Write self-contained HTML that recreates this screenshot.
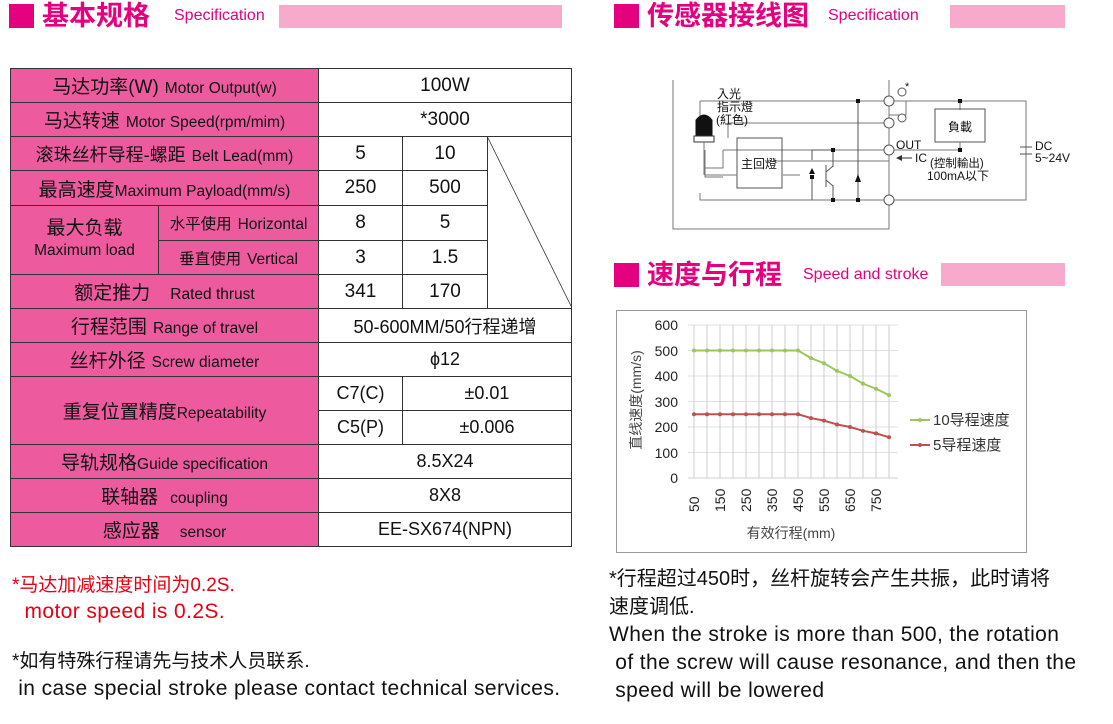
<!DOCTYPE html>
<html><head><meta charset="utf-8"><style>
body{margin:0;width:1113px;height:724px;background:#fff;position:relative;overflow:hidden;font-family:"Liberation Sans","Noto Sans CJK SC",sans-serif}
.a{position:absolute;white-space:nowrap}
.sq{position:absolute;background:#e4007f}
.ht{position:absolute;color:#e4007f;font-weight:bold;font-size:27px;line-height:30px;white-space:nowrap}
.hs{position:absolute;color:#e4007f;font-size:16px;line-height:20px}
.bar{position:absolute;background:#f7aacb}
.c{position:absolute;box-sizing:border-box;border:1px solid #333;display:flex;align-items:center;justify-content:center;font-size:19px;color:#111;white-space:nowrap}
.p{background:#ee5a9e}
.c small{font-size:15.5px;margin-left:6px}
.e{font-size:21px;letter-spacing:0.4px}
</style></head><body>
<div class="sq" style="left:9px;top:4px;width:25px;height:24px"></div>
<div class="ht" style="left:42px;top:1px">基本规格</div>
<div class="hs" style="left:174px;top:6px">Specification</div>
<div class="bar" style="left:279px;top:5px;width:283px;height:23px"></div>

<div class="sq" style="left:614px;top:4px;width:25px;height:24px"></div>
<div class="ht" style="left:647px;top:1px">传感器接线图</div>
<div class="hs" style="left:828px;top:6px">Specification</div>
<div class="bar" style="left:950px;top:5px;width:115px;height:23px"></div>

<div class="sq" style="left:614px;top:263px;width:25px;height:24px"></div>
<div class="ht" style="left:647px;top:260px">速度与行程</div>
<div class="hs" style="left:803px;top:265px">Speed and stroke</div>
<div class="bar" style="left:941px;top:263px;width:124px;height:23px"></div>

<!-- table -->
<div class="c p" style="left:10px;top:68px;width:309px;height:35px"><span>马达功率(W)<small>Motor Output(w)</small></span></div>
<div class="c" style="left:318px;top:68px;width:254px;height:35px">100W</div>
<div class="c p" style="left:10px;top:102px;width:309px;height:35px"><span>马达转速<small>Motor Speed(rpm/mim)</small></span></div>
<div class="c" style="left:318px;top:102px;width:254px;height:35px">*3000</div>
<div class="c p" style="left:10px;top:136px;width:309px;height:35px;font-size:18px"><span>滚珠丝杆导程-螺距<small>Belt Lead(mm)</small></span></div>
<div class="c" style="left:318px;top:136px;width:85px;height:35px">5</div>
<div class="c" style="left:402px;top:136px;width:86px;height:35px">10</div>
<div class="c p" style="left:10px;top:170px;width:309px;height:36px"><span>最高速度<small style="margin-left:0">Maximum Payload(mm/s)</small></span></div>
<div class="c" style="left:318px;top:170px;width:85px;height:36px">250</div>
<div class="c" style="left:402px;top:170px;width:86px;height:36px">500</div>
<div class="c p" style="left:10px;top:205px;width:149px;height:70px;flex-direction:column;line-height:22px"><span>最大负载</span><span style="font-size:15.5px">Maximum load</span></div>
<div class="c p" style="left:158px;top:205px;width:161px;height:36px;font-size:15.5px"><span>水平使用<small>Horizontal</small></span></div>
<div class="c p" style="left:158px;top:240px;width:161px;height:35px;font-size:15.5px"><span>垂直使用<small>Vertical</small></span></div>
<div class="c" style="left:318px;top:205px;width:85px;height:36px">8</div>
<div class="c" style="left:402px;top:205px;width:86px;height:36px">5</div>
<div class="c" style="left:318px;top:240px;width:85px;height:35px">3</div>
<div class="c" style="left:402px;top:240px;width:86px;height:35px">1.5</div>
<div class="c p" style="left:10px;top:274px;width:309px;height:35px"><span>额定推力<small style="margin-left:20px">Rated thrust</small></span></div>
<div class="c" style="left:318px;top:274px;width:85px;height:35px">341</div>
<div class="c" style="left:402px;top:274px;width:86px;height:35px">170</div>
<div class="c" style="left:487px;top:136px;width:85px;height:173px;border-left:none"></div>
<svg class="a" style="left:487px;top:136px" width="85" height="173"><line x1="0" y1="0" x2="85" y2="172" stroke="#333" stroke-width="0.8"/></svg>
<div class="c p" style="left:10px;top:308px;width:309px;height:35px"><span>行程范围<small>Range of travel</small></span></div>
<div class="c" style="left:318px;top:308px;width:254px;height:35px;font-size:18px">50-600MM/50行程递增</div>
<div class="c p" style="left:10px;top:342px;width:309px;height:35px"><span>丝杆外径<small>Screw diameter</small></span></div>
<div class="c" style="left:318px;top:342px;width:254px;height:35px;font-size:18px">ϕ12</div>
<div class="c p" style="left:10px;top:376px;width:309px;height:69px"><span>重复位置精度<small style="margin-left:0">Repeatability</small></span></div>
<div class="c" style="left:318px;top:376px;width:85px;height:35px;font-size:18px">C7(C)</div>
<div class="c" style="left:402px;top:376px;width:170px;height:35px;font-size:18px">±0.01</div>
<div class="c" style="left:318px;top:410px;width:85px;height:35px;font-size:18px">C5(P)</div>
<div class="c" style="left:402px;top:410px;width:170px;height:35px;font-size:18px">±0.006</div>
<div class="c p" style="left:10px;top:444px;width:309px;height:35px"><span>导轨规格<small style="margin-left:0">Guide specification</small></span></div>
<div class="c" style="left:318px;top:444px;width:254px;height:35px;font-size:18px">8.5X24</div>
<div class="c p" style="left:10px;top:478px;width:309px;height:35px"><span>联轴器<small style="margin-left:12px">coupling</small></span></div>
<div class="c" style="left:318px;top:478px;width:254px;height:35px;font-size:18px">8X8</div>
<div class="c p" style="left:10px;top:512px;width:309px;height:35px"><span>感应器<small style="margin-left:20px">sensor</small></span></div>
<div class="c" style="left:318px;top:512px;width:254px;height:35px;font-size:18px">EE-SX674(NPN)</div>

<div class="a" style="left:12px;top:573px;color:#e60012;font-size:19px;line-height:26px">*马达加减速度时间为0.2S.<br><span class="e">&nbsp; motor speed is 0.2S.</span></div>
<div class="a" style="left:12px;top:648px;color:#111;font-size:19px;line-height:27px">*如有特殊行程请先与技术人员联系.<br><span class="e">&nbsp;in case special stroke please contact technical services.</span></div>

<div class="a" style="left:609px;top:565px;color:#111;font-size:20px;line-height:28px">*行程超过450时，丝杆旋转会产生共振，此时请将<br>速度调低.<br><span class="e">When the stroke is more than 500, the rotation<br>&nbsp;of the screw will cause resonance, and then the<br>&nbsp;speed will be lowered</span></div>

<!-- circuit -->
<svg class="a" style="left:660px;top:70px;font-family:'Liberation Sans','Noto Sans CJK TC',sans-serif" width="420" height="170" fill="none" stroke="#777" stroke-width="1">
<path d="M13 10 V159 H229 V10"/>
<path d="M40 31 H366 V130 H40 V123"/>
<path d="M40 31 V68"/>
<path d="M68 68 V53 H229"/>
<path d="M246 31 V45 H229"/>
<path d="M63 80 H229 M113 91 H229"/>
<path d="M45 98 H63 V80 M45 98 V107 H63"/>
<path d="M123 105 H140"/>
<rect x="77" y="68" width="45" height="50" stroke="#555"/>
<path d="M45 80 V105 H77" />
<path d="M152 80 H173 V97 M152 80 V90 M152 106 V130 M173 115 V130" stroke="#555"/>
<path d="M166 95 V117 M166 102 L173 96 M166 110 L173 116" stroke="#555"/>
<path d="M198 31 V130" stroke="#555"/>
<path d="M300 31 V40 M300 72 V80 H229" />
<rect x="275" y="39" width="50" height="33" stroke="#555"/>
<path d="M360 77 H372 M360 84 H372" stroke="#555"/>
<path d="M240 88 H252" stroke="#333"/>
<polygon points="236,88 242,85 242,91" fill="#333" stroke="none"/>
<path d="M36 70 V50 Q44 40 52 50 V70 Z" fill="#111" stroke="#111"/>
<rect x="34" y="66" width="20" height="6" fill="#fff" stroke="#333"/>
<path d="M44 72 V105" />
<g fill="#fff" stroke="#555"><circle cx="229" cy="31" r="5"/><circle cx="229" cy="53" r="5"/><circle cx="229" cy="80" r="5"/><circle cx="229" cy="130" r="5"/><circle cx="242" cy="22" r="4"/><circle cx="242" cy="48" r="4"/></g>
<g fill="#111" stroke="none"><rect x="196" y="29" width="4" height="4"/><rect x="196" y="128" width="4" height="4"/><rect x="171" y="78" width="4" height="4"/><rect x="171" y="128" width="4" height="4"/><rect x="150" y="105" width="4" height="4"/><rect x="298" y="29" width="4" height="4"/><rect x="298" y="78" width="4" height="4"/>
<polygon points="152,98 149,104 155,104"/><polygon points="198,104 195,112 201,112"/>
<text x="245" y="20" font-size="11">*</text>
<text x="57" y="28" font-size="12">入光</text><text x="57" y="41" font-size="12">指示燈</text><text x="56" y="54" font-size="12">(紅色)</text>
<text x="81" y="98" font-size="12">主回燈</text>
<text x="288" y="61" font-size="12">負載</text>
<text x="236" y="79" font-size="12">OUT</text>
<text x="255" y="92" font-size="12">IC</text>
<text x="270" y="97" font-size="11.5">(控制輸出)</text>
<text x="267" y="110" font-size="12">100mA以下</text>
<text x="375" y="80" font-size="12">DC</text><text x="375" y="92" font-size="12">5~24V</text></g>
</svg>

<!-- chart -->
<svg class="a" style="left:0;top:0;font-family:'Liberation Sans','Noto Sans CJK SC',sans-serif" width="1113" height="724">
<rect x="616.5" y="310.5" width="410" height="242" fill="none" stroke="#999"/>
<g stroke="#e0e0e0" stroke-width="1">
<line x1="688" y1="325" x2="898" y2="325"/><line x1="688" y1="350.5" x2="898" y2="350.5"/><line x1="688" y1="376" x2="898" y2="376"/><line x1="688" y1="401.5" x2="898" y2="401.5"/><line x1="688" y1="427" x2="898" y2="427"/><line x1="688" y1="452.5" x2="898" y2="452.5"/>
</g>
<g stroke="#ccc" id="vg"></g>
<line x1="688" y1="478" x2="898" y2="478" stroke="#d0d0d0"/>
<g font-size="14" fill="#222" text-anchor="end">
<text x="678" y="330">600</text><text x="678" y="356">500</text><text x="678" y="381">400</text><text x="678" y="407">300</text><text x="678" y="432">200</text><text x="678" y="458">100</text><text x="678" y="483">0</text></g>
<g font-size="14" fill="#222" id="xl"></g>
<text transform="translate(641,400) rotate(-90)" text-anchor="middle" font-size="14" fill="#444">直线速度(mm/s)</text>
<text x="791" y="538" text-anchor="middle" font-size="14" fill="#444">有效行程(mm)</text>
<polyline id="g" fill="none" stroke="#9bc75a" stroke-width="2"/>
<polyline id="r" fill="none" stroke="#c0504d" stroke-width="2"/>
<g id="dots"></g>
<line x1="910" y1="420" x2="930" y2="420" stroke="#9bc75a" stroke-width="2"/><circle cx="920" cy="420" r="2" fill="#9bc75a"/>
<line x1="910" y1="445" x2="930" y2="445" stroke="#c0504d" stroke-width="2"/><circle cx="920" cy="445" r="2" fill="#c0504d"/>
<text x="933" y="425" font-size="15" fill="#333">10导程速度</text>
<text x="933" y="450" font-size="15" fill="#333">5导程速度</text>
</svg>
<script>
var g=[500,500,500,500,500,500,500,500,500,470,450,420,400,370,350,325],r=[250,250,250,250,250,250,250,250,250,235,225,210,200,185,175,160];
var ns="http://www.w3.org/2000/svg",vg=document.getElementById('vg'),xl=document.getElementById('xl'),d=document.getElementById('dots');
var gp=[],rp=[];
for(var i=0;i<16;i++){var x=694+i*13;
var l=document.createElementNS(ns,'line');l.setAttribute('x1',x);l.setAttribute('x2',x);l.setAttribute('y1',325);l.setAttribute('y2',478);vg.appendChild(l);
var gy=478-g[i]*0.255,ry=478-r[i]*0.255;gp.push(x+','+gy);rp.push(x+','+ry);
[[gy,'#9bc75a'],[ry,'#c0504d']].forEach(function(p){var c=document.createElementNS(ns,'circle');c.setAttribute('cx',x);c.setAttribute('cy',p[0]);c.setAttribute('r',2);c.setAttribute('fill',p[1]);d.appendChild(c);});
if(i%2==0){var t=document.createElementNS(ns,'text');t.setAttribute('transform','translate('+(x+5)+',512) rotate(-90)');t.textContent=50+i*50;xl.appendChild(t);}}
document.getElementById('g').setAttribute('points',gp.join(' '));
document.getElementById('r').setAttribute('points',rp.join(' '));
</script>
</body></html>
